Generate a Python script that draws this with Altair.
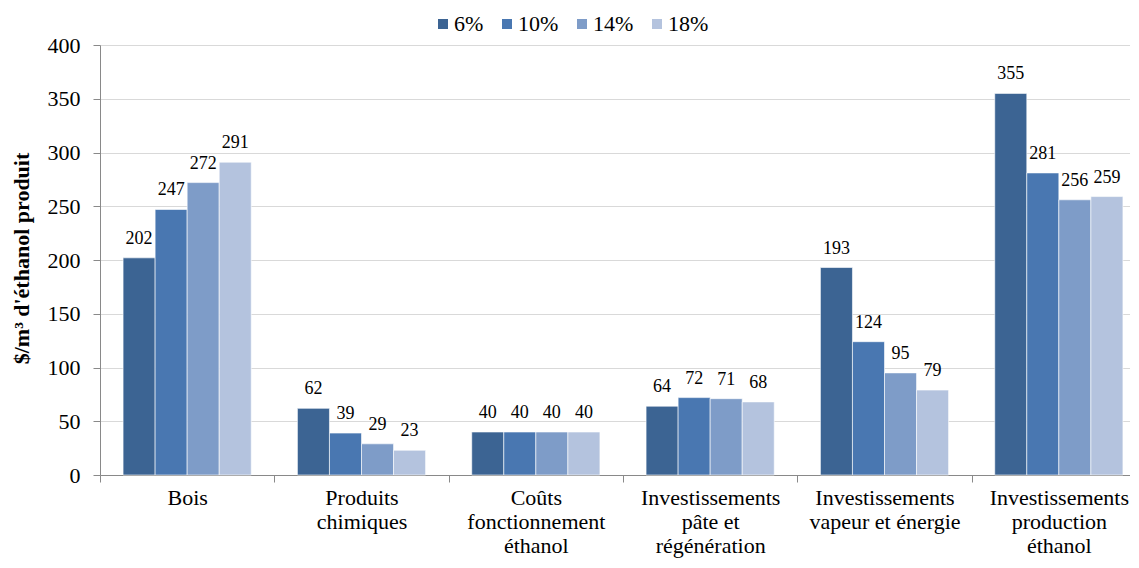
import altair as alt
import pandas as pd

categories = [
    "Bois",
    "Produits|chimiques",
    "Coûts|fonctionnement|éthanol",
    "Investissements|pâte et|régénération",
    "Investissements|vapeur et énergie",
    "Investissements|production|éthanol",
]
series = ["6%", "10%", "14%", "18%"]
colors = ["#3C6493", "#4977B1", "#7E9CC8", "#B4C3DE"]

values_6 = [202, 62, 40, 64, 193, 355]
values_10 = [247, 39, 40, 72, 124, 281]
values_14 = [272, 29, 40, 71, 95, 256]
values_18 = [291, 23, 40, 68, 79, 259]

rows = []
for s, vals in zip(series, [values_6, values_10, values_14, values_18]):
    for c, v in zip(categories, vals):
        rows.append({"cat": c, "series": s, "value": v})
df = pd.DataFrame(rows)

FONT = "Times New Roman, Liberation Serif, serif"
AXIS_GREY = "#898989"

base = alt.Chart(df).encode(
    x=alt.X(
        "cat:N",
        sort=categories,
        scale=alt.Scale(paddingInner=0, paddingOuter=0, range=[0, 1046]),
        axis=alt.Axis(
            title=None,
            labelAngle=0,
            labelExpr="split(datum.label, '|')",
            tickBand="extent",
            tickSize=7,
            labelPadding=5,
            labelFont=FONT,
            labelFontSize=22,
            labelLineHeight=24,
            labelColor="black",
            labelOverlap=False,
            labelLimit=0,
            domainColor=AXIS_GREY,
            tickColor=AXIS_GREY,
            grid=False,
        ),
    ),
    xOffset=alt.XOffset(
        "series:N", sort=series, scale=alt.Scale(paddingInner=0, paddingOuter=0.72)
    ),
    y=alt.Y(
        "value:Q",
        scale=alt.Scale(domain=[0, 400], nice=False),
        axis=alt.Axis(
            title="$/m³ d'éthanol produit",
            values=list(range(0, 401, 50)),
            tickSize=7,
            labelPadding=13,
            labelFont=FONT,
            labelFontSize=22,
            labelColor="black",
            titleFont=FONT,
            titleFontSize=22,
            titleFontWeight="bold",
            titleColor="black",
            titleAngle=270,
            titleBaseline="bottom",
            titleX=-67,
            titleY=213,
            domainColor=AXIS_GREY,
            tickColor=AXIS_GREY,
            gridColor="#D9D9D9",
        ),
    ),
)

bars = base.mark_bar(stroke="white", strokeWidth=0.6).encode(
    color=alt.Color(
        "series:N",
        sort=series,
        scale=alt.Scale(domain=series, range=colors),
        legend=alt.Legend(
            title=None,
            orient="none",
            direction="horizontal",
            legendX=332,
            legendY=-32,
            symbolType="square",
            symbolSize=100,
            symbolStrokeWidth=0,
            labelFont=FONT,
            labelFontSize=22,
            labelColor="black",
            labelOffset=0,
            columnPadding=12,
        ),
    )
)

text = base.mark_text(
    baseline="alphabetic", dy=-14, font=FONT, fontSize=18, color="black"
).encode(text="value:Q")

chart = (
    alt.layer(bars, text)
    .properties(
        width=1030,
        height=430,
        autosize=alt.AutoSizeParams(type="none"),
        padding={"left": 92, "top": 37, "right": 0, "bottom": 84},
    )
    .configure_view(stroke=None)
)

chart.save("out.html", embed_options={"renderer": "svg", "actions": False})
